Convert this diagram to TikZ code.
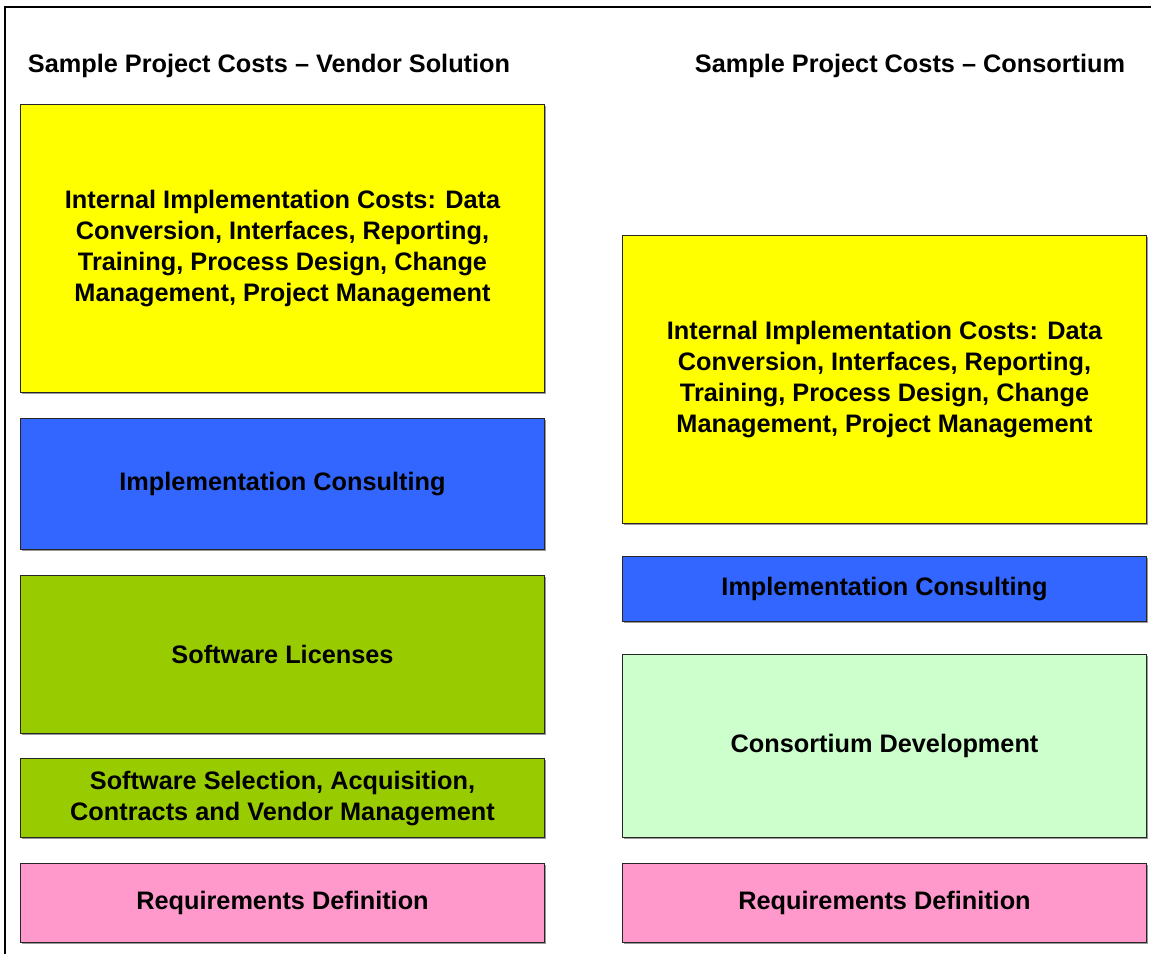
\documentclass[tikz,border=0pt]{standalone}
\usepackage{fontspec}
\setmainfont{Liberation Sans}
\definecolor{cyel}{HTML}{FFFF00}
\definecolor{cblue}{HTML}{3366FF}
\definecolor{cgreen}{HTML}{99CC00}
\definecolor{clgreen}{HTML}{CCFFCC}
\definecolor{cpink}{HTML}{FF99CC}
\begin{document}
\begin{tikzpicture}[x=1pt,y=-1pt,
  costbox/.style={draw=black!85,line width=1pt,inner sep=0pt,align=center,
    font=\fontsize{25.3}{31}\selectfont\bfseries},
  ttl/.style={font=\fontsize{25.3}{30}\selectfont\bfseries,inner sep=0pt},
  shadowbox/.style={fill=black!40}]
\useasboundingbox (0,0) rectangle (1151,954);
\draw[line width=2pt] (5,954) -- (5,7) -- (1151,7);
% left column
\fill[shadowbox] (22,106) rectangle (546,394);
\node[costbox,fill=cyel,minimum width=524,minimum height=288,anchor=north west] (ly) at (20,104)
 {Internal Implementation Costs: Data\\Conversion, Interfaces, Reporting,\\Training, Process Design, Change\\Management, Project Management};
\fill[shadowbox] (22,420) rectangle (546,551);
\node[costbox,fill=cblue,minimum width=524,minimum height=131,anchor=north west] (lb) at (20,418)
 {Implementation Consulting};
\fill[shadowbox] (22,577) rectangle (546,735);
\node[costbox,fill=cgreen,minimum width=524,minimum height=158,anchor=north west] (lg) at (20,575)
 {Software Licenses};
\fill[shadowbox] (22,760) rectangle (546,839);
\node[costbox,fill=cgreen,minimum width=524,minimum height=79,anchor=north west] (lg2) at (20,758)
 {Software Selection, Acquisition,\\Contracts and Vendor Management};
\fill[shadowbox] (22,865) rectangle (546,944);
\node[costbox,fill=cpink,minimum width=524,minimum height=79,anchor=north west] (lp) at (20,863)
 {Requirements Definition};
% right column
\fill[shadowbox] (624,237) rectangle (1148,525);
\node[costbox,fill=cyel,minimum width=524,minimum height=288,anchor=north west] (ry) at (622,235)
 {Internal Implementation Costs: Data\\Conversion, Interfaces, Reporting,\\Training, Process Design, Change\\Management, Project Management};
\fill[shadowbox] (624,558) rectangle (1148,623);
\node[costbox,fill=cblue,minimum width=524,minimum height=65,anchor=north west] (rb) at (622,556)
 {Implementation Consulting};
\fill[shadowbox] (624,656) rectangle (1148,839);
\node[costbox,fill=clgreen,minimum width=524,minimum height=183,anchor=north west] (rg) at (622,654)
 {Consortium Development};
\fill[shadowbox] (624,865) rectangle (1148,944);
\node[costbox,fill=cpink,minimum width=524,minimum height=79,anchor=north west] (rp) at (622,863)
 {Requirements Definition};
% titles
\node[ttl] (t1) at (269,66) {Sample Project Costs – Vendor Solution};
\node[ttl] (t2) at (910,66) {Sample Project Costs – Consortium};
\end{tikzpicture}
\end{document}
